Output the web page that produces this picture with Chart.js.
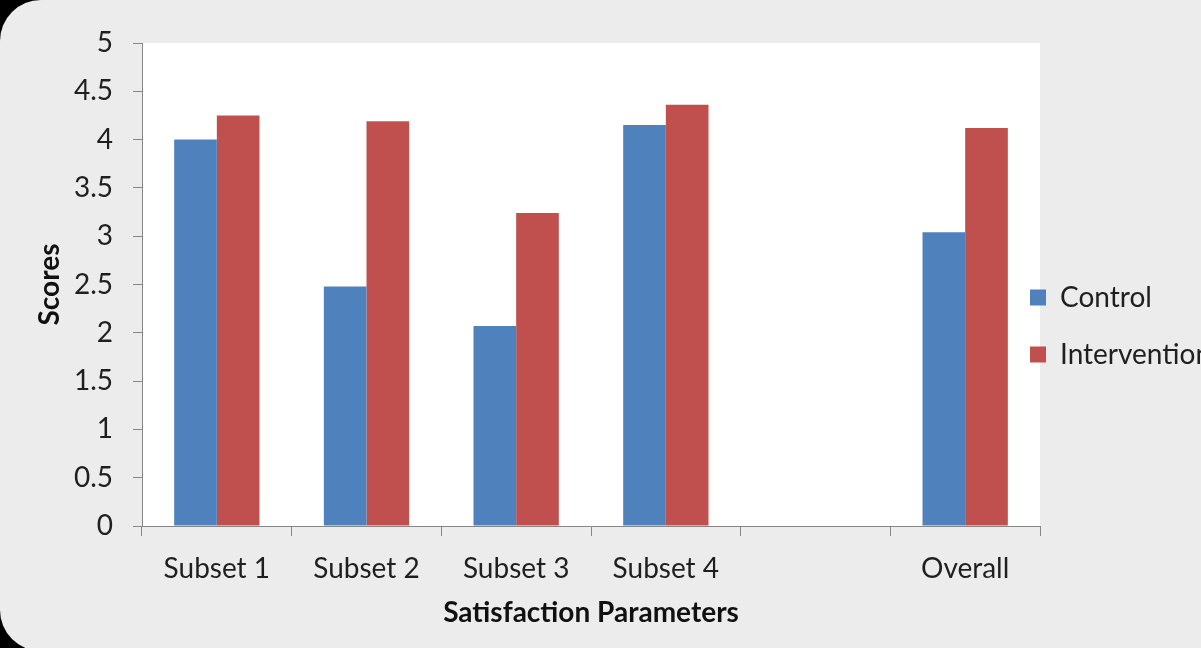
<!DOCTYPE html>
<html>
<head>
<meta charset="utf-8">
<script src="https://cdn.jsdelivr.net/npm/chart.js@4/dist/chart.umd.min.js"></script>
<style>
  html, body { margin: 0; padding: 0; background: #000; overflow: hidden; }
  #stage { position: relative; width: 1201px; height: 648px; overflow: hidden; background: #000; }
  #panel { position: absolute; left: 0; top: 0; width: 1320px; height: 651px;
           background: #ececec; border-radius: 41px 0 0 41px; }
  #chart { position: absolute; left: 0; top: 0; }
</style>
</head>
<body>
<div id="stage">
  <div id="panel"></div>
  <canvas id="chart" width="1300" height="648"></canvas>
</div>
<script>
// Categories along the x axis (the blank slot separates the subsets from the overall score)
const categories = ['Subset 1', 'Subset 2', 'Subset 3', 'Subset 4', '', 'Overall'];

// Mean satisfaction scores per group
const controlScores      = [4.00, 2.48, 2.07, 4.15, null, 3.04];
const interventionScores = [4.25, 4.19, 3.24, 4.36, null, 4.12];

// Score axis range and step
const yMin = 0;
const yMax = 5;
const yStep = 0.5;

const FONT = 'Lato, "Open Sans", sans-serif';
const AXIS_GREY = '#868686';
const TEXT = '#1f1f1f';

// White plotting area behind the bars
const plotBackground = {
  id: 'plotBackground',
  beforeDraw(chart) {
    const { ctx, chartArea: a } = chart;
    ctx.save();
    ctx.fillStyle = '#ffffff';
    ctx.fillRect(a.left, a.top, a.right - a.left, a.bottom - a.top);
    ctx.restore();
  }
};

// Put the legend block beside the plot, vertically centred on it,
// and give it room so the long label is not clipped by the legend box
const legendPlacement = {
  id: 'legendPlacement',
  afterLayout(chart) {
    const lg = chart.legend;
    if (!lg) return;
    const pad = lg.options.labels.padding;
    const fs = lg.options.labels.font.size;
    const h = lg.height;
    lg.left = 1030 - pad;
    lg.width = 320;
    lg.right = lg.left + lg.width;
    lg.top = 297.5 - fs / 2 - pad;
    lg.bottom = lg.top + h;
  }
};

new Chart(document.getElementById('chart'), {
  type: 'bar',
  data: {
    labels: categories,
    datasets: [
      { label: 'Control', data: controlScores, backgroundColor: '#4f81bd' },
      { label: 'Intervention', data: interventionScores, backgroundColor: '#c0504d' }
    ]
  },
  options: {
    responsive: false,
    animation: false,
    devicePixelRatio: 1,
    categoryPercentage: 0.57,
    barPercentage: 1.0,
    layout: { padding: { top: 43, right: 100, bottom: 0, left: 0 } },
    plugins: {
      tooltip: { enabled: false },
      legend: {
        position: 'right',
        align: 'start',
        maxWidth: 160,
        labels: {
          boxWidth: 16,
          boxHeight: 16,
          padding: 29,
          color: TEXT,
          font: { family: FONT, size: 28 }
        }
      }
    },
    scales: {
      x: {
        grid: { display: true, drawOnChartArea: false, drawTicks: true, tickLength: 10, color: AXIS_GREY, offset: true },
        border: { display: true, color: AXIS_GREY, width: 1 },
        ticks: { color: TEXT, padding: 16, font: { family: FONT, size: 28 }, maxRotation: 0, autoSkip: false },
        title: {
          display: true,
          text: 'Satisfaction Parameters',
          color: '#111',
          font: { family: FONT, size: 28, weight: 'bold' },
          padding: { top: 0, bottom: 18 }
        },
        afterFit(scale) { scale.height = 122; }
      },
      y: {
        min: yMin,
        max: yMax,
        grid: { display: true, drawOnChartArea: false, drawTicks: true, tickLength: 9, color: AXIS_GREY },
        border: { display: true, color: AXIS_GREY, width: 1 },
        ticks: {
          stepSize: yStep,
          color: TEXT,
          padding: 20,
          font: { family: FONT, size: 28 },
          callback: (v) => String(Number(Number(v).toFixed(1)))
        },
        title: {
          display: true,
          text: 'Scores',
          color: '#111',
          font: { family: FONT, size: 28, weight: 'bold' },
          padding: { top: 33, bottom: 0 }
        },
        afterFit(scale) { scale.width = 142; }
      }
    }
  },
  plugins: [plotBackground, legendPlacement]
});
</script>
</body>
</html>
